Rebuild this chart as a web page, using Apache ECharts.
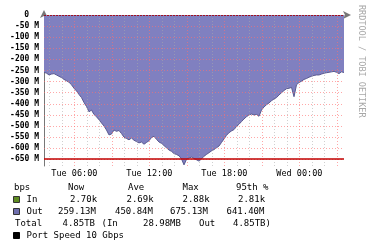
<!DOCTYPE html>
<html><head><meta charset="utf-8">
<script src="https://cdn.jsdelivr.net/npm/echarts@6/dist/echarts.min.js"></script>
<style>html,body{margin:0;padding:0;background:#fff}#c{width:375px;height:248px}</style>
</head><body><div id="c"></div>
<script>
// ---- data ----
const startHour = 3.57;          // Tue 03:34
const stepHours = 0.2;           // 12 min samples
const outMbps = [258,262,270,266,264,270,276,282,290,296,303,314,330,342,358,372,394,412,436,428,
  448,458,472,486,500,518,540,536,518,524,520,534,550,556,562,554,564,570,576,572,
  582,574,566,552,546,560,572,578,588,598,608,614,624,628,634,648,675,650,644,640,
  646,652,658,648,636,628,620,612,606,598,590,574,558,542,530,522,516,502,492,480,
  468,458,450,446,450,448,456,428,414,404,396,386,378,372,360,350,340,332,330,326,
  368,314,304,298,290,286,280,276,272,270,270,266,262,260,258,256,254,258,264,256,259];
const portLineMbps = 648;
const yTicks = [0,-50,-100,-150,-200,-250,-300,-350,-400,-450,-500,-550,-600,-650];
const xTickHours = [6,12,18,24];
const xTickLabels = ['Tue 06:00','Tue 12:00','Tue 18:00','Wed 00:00'];
const gridHours = [4,5,6,7,8,9,10,11,12,13,14,15,16,17,18,19,20,21,22,23,24,25,26,27];
const legendHeader = ['bps','Now','Ave','Max','95th %'];
const inStats = ['2.70k','2.69k','2.88k','2.81k'];
const outStats = ['259.13M','450.84M','675.13M','641.40M'];
const totalRow = ['Total','4.85TB','(In','28.98MB','Out','4.85TB)'];

const xMin = startHour, xMax = startHour + 24;
const seriesData = outMbps.map((v,i)=>[startHour + i*stepHours, -v]);

const mono = 'DejaVu Sans Mono';
const gridLines = [];
gridHours.forEach(h=>{
  const major = h % 3 === 0;
  gridLines.push({xAxis:h, lineStyle:{color: major?'rgba(255,110,110,0.6)':'rgba(170,170,170,0.55)', type:[1,2], width:1}});
});
yTicks.forEach(v=>{
  gridLines.push({yAxis:v, lineStyle:{color:'rgba(255,110,110,0.6)', type:[1,2], width:1}});
});
gridLines.push({yAxis:0, lineStyle:{color:'#a01020', type:[2,1], width:1}});
gridLines.push({yAxis:-portLineMbps, lineStyle:{color:'#c00000', type:'solid', width:1.5}});

const chart = echarts.init(document.getElementById('c'), null, {renderer:'canvas'});

const txt = (x,y,s,extra)=>Object.assign({type:'text', x, y, style:{text:s, fill:'#000', font:'9px "'+mono+'"', textVerticalAlign:'middle'}}, extra||{});
const hx = [14, 68, 128, 182.5, 236];
const colX = [70, 126.5, 182.5, 238];
const outX = [58, 115, 170, 226.5];
const totX = [15, 62.5, 101.5, 143, 199, 233];
const graphics = [];
legendHeader.forEach((s,i)=>graphics.push(txt(hx[i],187.5,s)));
graphics.push({type:'rect', shape:{x:13.5,y:196.5,width:6,height:6}, style:{fill:'#5f8c22', stroke:'#333', lineWidth:1}});
graphics.push(txt(26.5,200,'In'));
inStats.forEach((s,i)=>graphics.push(txt(colX[i],200,s)));
graphics.push({type:'rect', shape:{x:13.5,y:208.5,width:6,height:6}, style:{fill:'#6f6fae', stroke:'#333', lineWidth:1}});
graphics.push(txt(26.5,212,'Out'));
outStats.forEach((s,i)=>graphics.push(txt(outX[i],212,s)));
totalRow.forEach((s,i)=>graphics.push(txt(totX[i],223.5,s)));
graphics.push({type:'rect', shape:{x:13.5,y:232.5,width:6,height:6}, style:{fill:'#000', stroke:'#000', lineWidth:1}});
graphics.push(txt(26.5,235.5,'Port Speed 10 Gbps'));
graphics.push({type:'text', x:361, y:5, rotation:-Math.PI/2, style:{text:'RRDTOOL / TOBI OETIKER', fill:'#a8a8a8', font:'8.5px "'+mono+'"', textVerticalAlign:'middle'}});

chart.setOption({
  animation:false,
  backgroundColor:'#fff',
  grid:{left:44, top:15, width:300, height:151, containLabel:false},
  xAxis:{type:'value', min:xMin, max:xMax,
    axisLine:{show:true, lineStyle:{color:'#777', width:1}, symbol:['none','arrow'], symbolSize:[6,8], symbolOffset:[0,7]},
    axisTick:{show:false}, splitLine:{show:false},
    axisLabel:{customValues:xTickHours, margin:3, color:'#000', fontFamily:mono, fontSize:8.5,
      formatter:v=>{const i=xTickHours.indexOf(Math.round(v)); return i>=0?xTickLabels[i]:'';}}},
  yAxis:{type:'value', min:-680, max:0,
    axisLine:{show:true, lineStyle:{color:'#777', width:1}, symbol:['none','arrow'], symbolSize:[6,8], symbolOffset:[0,5]},
    axisTick:{show:false}, splitLine:{show:false},
    axisLabel:{customValues:yTicks, margin:5, color:'#000', fontFamily:mono, fontSize:8, fontWeight:'bold',
      rich:{z:{fontFamily:mono, fontSize:8, fontWeight:'bold', color:'#000', padding:[0,10,0,0]}},
      formatter:v=>v===0?'{z|0}':(v+' M')}},
  series:[{type:'line', data:seriesData, symbol:'none', showSymbol:false,
    lineStyle:{color:'#5a5a90', width:1}, areaStyle:{color:'#8080c0', opacity:1},
    markLine:{silent:true, symbol:'none', label:{show:false}, data:gridLines, animation:false}, z:2}],
  graphic:graphics
});
</script></body></html>
